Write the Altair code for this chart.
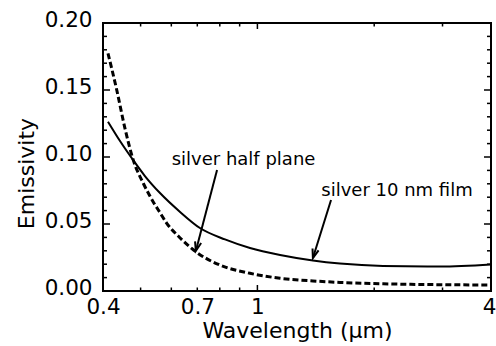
import altair as alt
import pandas as pd

# ---- data ----
film_wl = [0.412, 0.4425, 0.478, 0.513, 0.561, 0.632, 0.711, 0.825, 0.957, 1.144, 1.39, 1.632, 2.108, 2.96, 4.0]
film_em = [0.1263, 0.1119, 0.0978, 0.0858, 0.0731, 0.059, 0.047, 0.0385, 0.0321, 0.0269, 0.0228, 0.0205, 0.0187, 0.0183, 0.0198]

half_wl = [0.412, 0.434, 0.456, 0.479, 0.508, 0.539, 0.561, 0.584, 0.625, 0.694, 0.80, 0.957, 1.144, 1.39, 1.632, 2.108, 3.0, 4.0]
half_em = [0.1774, 0.150, 0.121, 0.0975, 0.0804, 0.0665, 0.0585, 0.0505, 0.041, 0.0293, 0.0194, 0.0132, 0.0095, 0.0075, 0.0064, 0.0054, 0.0047, 0.0045]

x_labels = [0.4, 0.7, 1, 4]
y_labels = [0.0, 0.05, 0.10, 0.15, 0.20]
x_ticks_major = [1]
x_ticks_minor = [0.5, 0.6, 0.7, 0.8, 0.9, 2, 3]
y_ticks_major = [0.05, 0.10, 0.15]
y_ticks_minor = [0.01, 0.02, 0.03, 0.04, 0.06, 0.07, 0.08, 0.09,
                 0.11, 0.12, 0.13, 0.14, 0.16, 0.17, 0.18, 0.19]

ann_text = ["silver half plane", "silver 10 nm film"]
ann_x = [0.921, 2.29]
ann_y = [0.094, 0.0709]
arrow_x0 = [0.787, 1.548]
arrow_y0 = [0.0903, 0.0679]
arrow_x1 = [0.694, 1.390]
arrow_y1 = [0.0299, 0.0246]
arrow_angle = [14.5, 17.2]

W, H = 388, 268
FONT = "DejaVu Sans"

xscale = alt.Scale(type="log", domain=[0.4, 4], nice=False)
yscale = alt.Scale(domain=[0, 0.2], nice=False, zero=False)

film = pd.DataFrame({"wl": film_wl, "em": film_em})
half = pd.DataFrame({"wl": half_wl, "em": half_em})

xaxis = alt.Axis(values=x_labels, format="~g", title="Wavelength (µm)", ticks=False,
                 domain=False, grid=False, labelFont=FONT, labelFontSize=21.5,
                 labelColor="black", labelPadding=5, labelFlush=False, labelOverlap=False,
                 labelAlign={"condition": {"test": "datum.value == 4", "value": "right"},
                             "value": "center"},
                 labelOffset={"condition": {"test": "datum.value == 4", "value": 5},
                              "value": 0},
                 titleFont=FONT, titleFontSize=22, titleFontWeight="normal",
                 titleColor="black", titleBaseline="alphabetic", titleY=46, titleX=W / 2,
                 titleAlign="center")
yaxis = alt.Axis(values=y_labels, format=".2f", title="Emissivity", ticks=False,
                 domain=False, grid=False, labelFont=FONT, labelFontSize=21.5,
                 labelColor="black", labelPadding=11, labelOffset=-3, labelFlush=False,
                 labelOverlap=False, titleFont=FONT, titleFontSize=22,
                 titleFontWeight="normal", titleColor="black", titleBaseline="alphabetic",
                 titleX=-70, titleY=150, titleAlign="center")


def X(f):
    return alt.X(f, scale=xscale, axis=xaxis)


def Y(f):
    return alt.Y(f, scale=yscale, axis=yaxis)


solid = alt.Chart(film).mark_line(color="black", strokeWidth=2, interpolate="monotone").encode(
    x=X("wl:Q"), y=Y("em:Q"),
)
dashed = alt.Chart(half).mark_line(color="black", strokeWidth=3, strokeDash=[6, 3],
                                   interpolate="monotone").encode(
    x=X("wl:Q"), y=Y("em:Q"),
)


def xticks(vals, length):
    d = pd.DataFrame({"v": vals})
    bot = alt.Chart(d).mark_rule(color="black", strokeWidth=1.5).encode(
        x=X("v:Q"), y=alt.value(H), y2=alt.value(H - length))
    top = alt.Chart(d).mark_rule(color="black", strokeWidth=1.5).encode(
        x=X("v:Q"), y=alt.value(0), y2=alt.value(length))
    return [bot, top]


def yticks(vals, length):
    d = pd.DataFrame({"v": vals})
    left = alt.Chart(d).mark_rule(color="black", strokeWidth=1.5).encode(
        y=Y("v:Q"), x=alt.value(0), x2=alt.value(length))
    right = alt.Chart(d).mark_rule(color="black", strokeWidth=1.5).encode(
        y=Y("v:Q"), x=alt.value(W), x2=alt.value(W - length))
    return [left, right]


ann = pd.DataFrame({"t": ann_text, "x": ann_x, "y": ann_y})
texts = alt.Chart(ann).mark_text(font=FONT, fontSize=18, color="black", align="center",
                                 baseline="alphabetic").encode(
    x=X("x:Q"), y=Y("y:Q"), text="t:N",
)

arr = pd.DataFrame({"x0": arrow_x0, "y0": arrow_y0, "x1": arrow_x1, "y1": arrow_y1,
                    "a": arrow_angle})
shafts = alt.Chart(arr).mark_rule(color="black", strokeWidth=2).encode(
    x=X("x0:Q"), y=Y("y0:Q"), x2="x1:Q", y2="y1:Q",
)
heads = alt.Chart(arr).mark_point(shape="M-0.35,-1L0,0L0.35,-1", size=324, color="black",
                                  strokeWidth=2, filled=False, opacity=1).encode(
    x=X("x1:Q"), y=Y("y1:Q"),
    angle=alt.Angle("a:Q", scale=None),
)

layers = [solid, dashed] + xticks(x_ticks_major, 6) + xticks(x_ticks_minor, 3.5) \
    + yticks(y_ticks_major, 7) + yticks(y_ticks_minor, 4) + [shafts, heads, texts]

chart = alt.layer(*layers).properties(
    width=W, height=H,
    autosize=alt.AutoSizeParams(type="none"),
    padding={"left": 103, "top": 23, "right": 5, "bottom": 55},
    background="white",
).configure_view(stroke="black", strokeWidth=2)

chart.save("out.html", embed_options={"renderer": "svg", "actions": False})
